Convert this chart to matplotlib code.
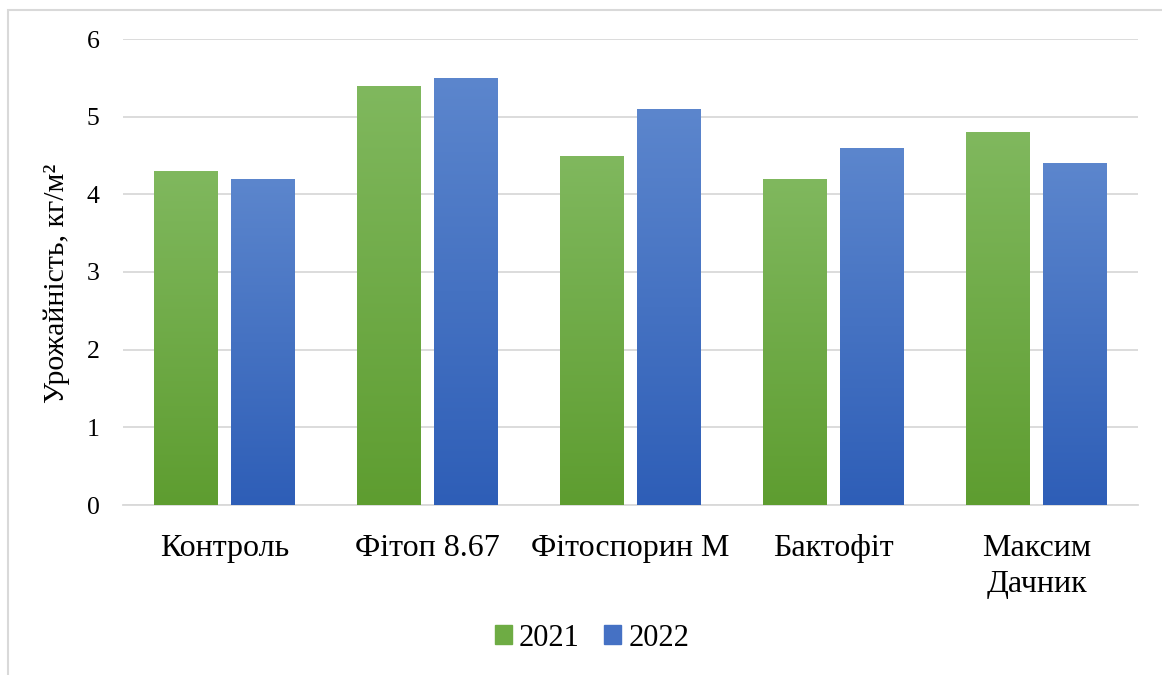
import numpy as np
import matplotlib
matplotlib.use("Agg")
import matplotlib.pyplot as plt
from matplotlib.colors import LinearSegmentedColormap
from matplotlib.patches import Rectangle

categories = ["Контроль", "Фітоп 8.67", "Фітоспорин М", "Бактофіт", "Максим\nДачник"]
series_names = ["2021", "2022"]
values_2021 = [4.3, 5.4, 4.5, 4.2, 4.8]
values_2022 = [4.2, 5.5, 5.1, 4.6, 4.4]
y_ticks = [0, 1, 2, 3, 4, 5, 6]

plt.rcParams['font.family'] = ['Liberation Serif', 'DejaVu Serif']

fig = plt.figure(figsize=(11.62, 6.75), dpi=100)
ax = fig.add_axes([123/1162, 1-505/675, (1138-123)/1162, (505-39)/675])

# figure border
fig.patches.append(Rectangle((8/1162, -0.1), 1.2, 1-10/675+0.1, transform=fig.transFigure,
                             fill=False, edgecolor="#D9D9D9", linewidth=1.5))

x = np.arange(len(categories))
width = 0.315
offset = 0.19

grads = [("#80B85E", "#5E9D30"), ("#5C86CD", "#2E5EB7")]
legend_cols = ["#6EAC44", "#4571C4"]

for vals, off, (top, bot), name in zip([values_2021, values_2022], [-offset, offset],
                                       grads, series_names):
    bars = ax.bar(x + off, vals, width, color="none", edgecolor="none", label=name, zorder=3)
    cmap = LinearSegmentedColormap.from_list("g", [bot, top])
    grad = np.linspace(0, 1, 256).reshape(-1, 1)
    for b in bars:
        x0, y0 = b.get_x(), b.get_y()
        w, h = b.get_width(), b.get_height()
        im = ax.imshow(grad, cmap=cmap, aspect="auto", origin="lower",
                       extent=[x0, x0 + w, y0, y0 + h], zorder=3, interpolation="bilinear")
        im.set_clip_path(b)

ax.set_xlim(-0.5, len(categories) - 0.5)
ax.set_ylim(0, 6)
ax.set_yticks(y_ticks)
ax.set_yticklabels([str(t) for t in y_ticks], fontsize=18.5)
ax.set_xticks(x)
ax.set_xticklabels(categories, fontsize=23, linespacing=1.33)
ax.tick_params(axis="both", length=0)
ax.tick_params(axis="y", pad=17)
ax.tick_params(axis="x", pad=21)
ax.yaxis.grid(True, color="#D9D9D9", linewidth=1.3, zorder=0)
ax.set_axisbelow(True)
for s in ["top", "right", "left"]:
    ax.spines[s].set_visible(False)
ax.spines["bottom"].set_color("#D9D9D9")
ax.spines["bottom"].set_linewidth(1.3)

fig.text(57/1162, 1-283/675, "Урожайність, кг/м²", fontsize=21.5, rotation=90,
         ha="center", va="center")

handles = [Rectangle((0, 0), 1, 1, color=c) for c in legend_cols]
fig.legend(handles, series_names, loc="center", bbox_to_anchor=(592/1162, 1-638/675),
           ncol=2, frameon=False, fontsize=22, handlelength=0.56, handleheight=0.56,
           handletextpad=0.23, columnspacing=0.8)

fig.savefig("out.png", dpi=100)
